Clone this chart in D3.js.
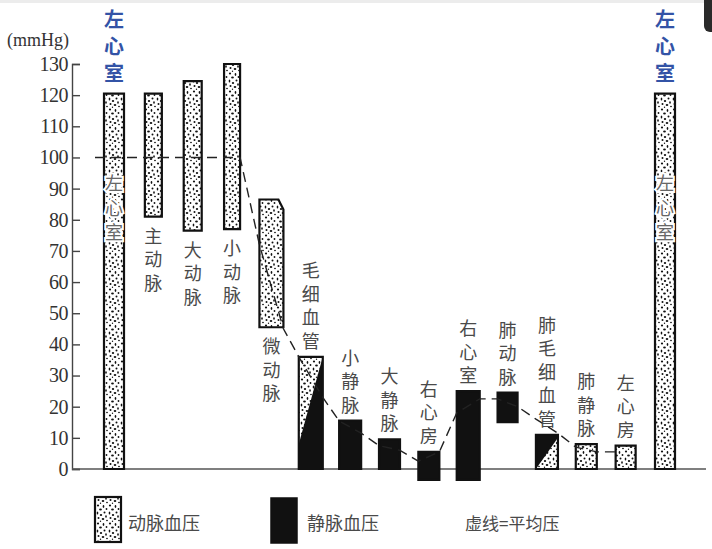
<!DOCTYPE html>
<html>
<head>
<meta charset="utf-8">
<script src="https://cdn.jsdelivr.net/npm/d3@7"></script>
<style>
  body { margin: 0; background: #fff; }
  svg { display: block; }
</style>
</head>
<body>
<div id="chart"></div>
<script>
// vessel segments along the circulation, left to right
var categories = ["左心室", "主动脉", "大动脉", "小动脉", "微动脉", "毛细血管", "小静脉", "大静脉",
  "右心房", "右心室", "肺动脉", "肺毛细血管", "肺静脉", "左心房", "左心室"];
// pressure range of each segment (mmHg)
var highs = [120.5, 120.5, 124.5, 130, 86.5, 36, 15.5, 9.5, 5.5, 25, 24.5, 11, 8, 7.5, 120.5];
var lows = [0, 81, 76.5, 77, 45.5, 0, 0, 0, -3.5, -3.5, 15, 0, 0, 0, 0];
// a = arterial (dotted), v = venous (black), av / va = mixed
var kinds = ["a", "a", "a", "a", "a", "av", "v", "v", "v", "v", "v", "va", "a", "a", "a"];
var splitIdx = [5, 11];
var splitLeft = [8, 0];
var splitRight = [36, 10];
// mean pressure (dashed line)
var meanIdx = [0, 3, 4, 4, 5, 5, 6, 6, 7, 7, 8, 8, 9, 9, 10, 10, 11, 11, 12, 12, 13];
var meanSide = [-1.9, 1, -1, 1, -1, 1, -1, 1, -1, 1, -1, 1, -1, 1, -1, 1, -1, 1, -1, 1, -1];
var meanVal = [100, 100, 72, 45, 36, 23, 15.4, 11.5, 7.5, 6, 2.5, 5.5, 18, 22.5, 22.5, 20, 16, 11.5, 7, 5.5, 5.5];
var yTicks = [0, 10, 20, 30, 40, 50, 60, 70, 80, 90, 100, 110, 120, 130];

// layout / style
var barW = [20, 17, 18, 16, 24, 24, 22, 21, 21, 23, 20, 22, 21, 20, 20];
var labelWhere = ["in", "below", "below", "below", "below", "above", "above", "above",
  "above", "above", "above", "above", "above", "above", "in"];
var cjk = "'Noto Sans CJK SC', 'Noto Sans CJK JP', sans-serif";
var serif = "'Liberation Serif', 'DejaVu Serif', serif";
var labelColor = "#4a4a4a";

var svgWidth = 712, svgHeight = 549;

var svg = d3.select("#chart").append("svg")
  .attr("width", svgWidth)
  .attr("height", svgHeight);

// dotted fill
var defs = svg.append("defs");
var pat = defs.append("pattern")
  .attr("id", "dots")
  .attr("patternUnits", "userSpaceOnUse")
  .attr("width", 12).attr("height", 18);
pat.append("rect").attr("width", 12).attr("height", 18).attr("fill", "#fff");
var dots = [[2, 1.5, 1.1, 1.0], [7.5, 2.5, 0.8, 1.4], [10.5, 5, 0.9, 0.9], [4.5, 5.5, 1.4, 1.1],
  [8.5, 8.5, 1.0, 1.0], [1.5, 9, 0.8, 1.5], [5, 11, 1.2, 0.9], [10, 12.5, 0.8, 1.2],
  [2.5, 14, 1.0, 1.0], [7, 15, 1.3, 1.0], [4.5, 17.2, 0.7, 0.7], [11, 16.5, 0.9, 0.8]];
dots.forEach(function(d) {
  pat.append("ellipse").attr("cx", d[0]).attr("cy", d[1]).attr("rx", d[2]).attr("ry", d[3]).attr("fill", "#111");
});

// window artifacts from the scan
svg.append("rect").attr("x", 0).attr("y", 0).attr("width", svgWidth).attr("height", 3).attr("fill", "#ececec");
svg.append("rect").attr("x", 704).attr("y", -8).attr("width", 20).attr("height", 40).attr("rx", 6).attr("fill", "#2a2a2a");

var y = d3.scaleLinear().domain([0, 130]).range([469, 64]);
var x = d3.scalePoint().domain(d3.range(categories.length)).range([114, 665]);

// y axis, ticks pointing inward
var leftAxis = d3.axisLeft(y)
  .tickValues(yTicks)
  .tickSizeInner(-8)
  .tickSizeOuter(-8)
  .tickPadding(4);

var yAxis = svg.append("g")
  .attr("transform", "translate(72,0)")
  .call(leftAxis);
yAxis.selectAll("path, line").attr("stroke", "#444").attr("stroke-width", 1.4);
yAxis.selectAll("text")
  .attr("font-family", serif)
  .attr("font-size", 20)
  .attr("letter-spacing", -0.5)
  .attr("fill", "#333");

svg.append("text")
  .attr("x", 7).attr("y", 46)
  .attr("font-family", serif)
  .attr("font-size", 18)
  .attr("fill", "#333")
  .text("(mmHg)");

// baseline
svg.append("line")
  .attr("x1", 72).attr("x2", 706)
  .attr("y1", y(0)).attr("y2", y(0))
  .attr("stroke", "#555").attr("stroke-width", 1.5);

// bars
var bars = svg.append("g");
categories.forEach(function(c, i) {
  var x0 = x(i) - barW[i] / 2, x1 = x(i) + barW[i] / 2;
  var top = y(highs[i]), bot = y(lows[i]);
  var k = kinds[i];
  var g = bars.append("g");
  var outline = i === 4
    ? "M" + x0 + "," + top + "H" + (x1 - 5) + "L" + x1 + "," + (top + 10) + "V" + bot + "H" + x0 + "Z"
    : "M" + x0 + "," + top + "H" + x1 + "V" + bot + "H" + x0 + "Z";
  g.append("path")
    .attr("d", outline)
    .attr("fill", k === "v" ? "#111" : "url(#dots)");
  var s = splitIdx.indexOf(i);
  if (s >= 0) {
    var pts;
    if (k === "av") {
      pts = [[x1, top], [x1, bot], [x0, bot], [x0, y(splitLeft[s])], [x1, y(splitRight[s])]];
    } else {
      pts = [[x0, top], [x1, top], [x1, y(splitRight[s])], [x0, y(splitLeft[s])]];
    }
    g.append("path")
      .attr("d", "M" + pts.map(function(p) { return p.join(","); }).join("L") + "Z")
      .attr("fill", "#111");
  }
  g.append("path")
    .attr("d", outline)
    .attr("fill", "none").attr("stroke", "#111").attr("stroke-width", 2.2);
});

// mean pressure dashed line
var meanPts = meanIdx.map(function(idx, j) {
  return [x(idx) + meanSide[j] * barW[idx] / 2, y(meanVal[j])];
});
svg.append("path")
  .attr("d", d3.line()(meanPts))
  .attr("fill", "none")
  .attr("stroke", "#222")
  .attr("stroke-width", 1.4)
  .attr("stroke-dasharray", "10,6");

// vertical labels
var step = 23.5;
categories.forEach(function(c, i) {
  var chars = c.split("");
  var inside = labelWhere[i] === "in";
  var firstY;
  if (inside) firstY = y(92);
  else if (labelWhere[i] === "below") firstY = y(lows[i]) + 18;
  else firstY = y(highs[i]) - 17 - (chars.length - 1) * step;
  chars.forEach(function(ch, j) {
    svg.append("text")
      .attr("x", x(i))
      .attr("y", firstY + j * (inside ? 24.5 : step))
      .attr("text-anchor", "middle")
      .attr("dominant-baseline", "central")
      .attr("font-family", cjk)
      .attr("font-size", 18)
      .attr("fill", inside ? "#666" : labelColor)
      .attr("stroke", inside ? "#fff" : "none")
      .attr("stroke-width", inside ? 4 : 0)
      .attr("paint-order", "stroke")
      .text(ch);
  });
});

// blue headings over both ventricles
[0, categories.length - 1].forEach(function(i) {
  categories[i].split("").forEach(function(ch, j) {
    svg.append("text")
      .attr("x", x(i))
      .attr("y", 18 + j * 27)
      .attr("text-anchor", "middle")
      .attr("dominant-baseline", "central")
      .attr("font-family", cjk)
      .attr("font-weight", "bold")
      .attr("font-size", 20)
      .attr("fill", "#3353a6")
      .text(ch);
  });
});

// legend
var legend = svg.append("g");
legend.append("rect")
  .attr("x", 95).attr("y", 497).attr("width", 26).attr("height", 45)
  .attr("fill", "url(#dots)").attr("stroke", "#111").attr("stroke-width", 2.2);
legend.append("text")
  .attr("x", 128).attr("y", 522)
  .attr("dominant-baseline", "central")
  .attr("font-family", cjk).attr("font-size", 18).attr("fill", labelColor)
  .text("动脉血压");
legend.append("rect")
  .attr("x", 271).attr("y", 498).attr("width", 26).attr("height", 45)
  .attr("fill", "#111").attr("stroke", "#111").attr("stroke-width", 1.5);
legend.append("text")
  .attr("x", 307).attr("y", 522)
  .attr("dominant-baseline", "central")
  .attr("font-family", cjk).attr("font-size", 18).attr("fill", labelColor)
  .text("静脉血压");
legend.append("text")
  .attr("x", 465).attr("y", 522)
  .attr("dominant-baseline", "central")
  .attr("font-family", cjk).attr("font-size", 17).attr("fill", labelColor)
  .text("虚线=平均压");
</script>
</body>
</html>
